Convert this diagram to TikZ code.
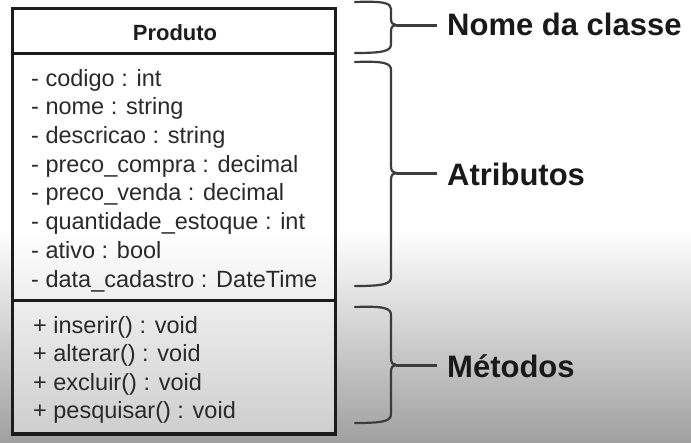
\documentclass[tikz,border=0pt]{standalone}
\usepackage{fontspec}
\setmainfont{Liberation Sans}
\definecolor{bggray}{HTML}{A0A0A0}
\definecolor{boxgray}{HTML}{CECECE}
\definecolor{inkline}{HTML}{1C1C1C}
\definecolor{inktext}{HTML}{2A2A2A}
\definecolor{braceink}{HTML}{3C3C3C}
\tikzset{
  attr/.style={anchor=base west, inner sep=0pt, text=inktext, font=\fontsize{23.5}{28}\selectfont},
  title/.style={anchor=base, inner sep=0pt, text=inkline, font=\bfseries\fontsize{22}{26}\selectfont},
  lbl/.style={anchor=base west, inner sep=0pt, text=black!90, font=\bfseries\fontsize{31}{36}\selectfont},
  bracestyle/.style={draw=braceink, line width=2.2pt, line cap=round},
  tickstyle/.style={draw=braceink, line width=3pt},
  frame/.style={draw=inkline, line width=3.5pt},
  divider/.style={draw=inkline, line width=3pt}
}
\begin{document}
\begin{tikzpicture}[x=1pt,y=-1pt]
\useasboundingbox (0,0) rectangle (691,442);
% background
\fill[white] (0,0) rectangle (691,231);
\shade[top color=white, bottom color=bggray] (0,230) rectangle (691,442);
% box interior
\fill[white] (12.5,8.5) rectangle (335.5,231);
\shade[top color=white, bottom color=boxgray] (12.5,230) rectangle (335.5,434);
% class box
\draw[frame] (12.5,8.5) rectangle (335.5,434);
\draw[divider] (12.5,53) -- (335.5,53);
\draw[divider] (12.5,300) -- (335.5,300);
% header
\node[title] (cls) at (175,40) {Produto};
% attributes
\node[attr] (a1) at (31,86)    {- codigo : int};
\node[attr] (a2) at (31,114.7) {- nome : string};
\node[attr] (a3) at (31,143.4) {- descricao : string};
\node[attr] (a4) at (31,172.1) {- preco\_compra : decimal};
\node[attr] (a5) at (31,200.8) {- preco\_venda : decimal};
\node[attr] (a6) at (31,229.5) {- quantidade\_estoque : int};
\node[attr] (a7) at (31,258.2) {- ativo : bool};
\node[attr] (a8) at (31,287)   {- data\_cadastro : DateTime};
% methods
\node[attr] (m1) at (33,333)   {+ inserir() : void};
\node[attr] (m2) at (33,361.5) {+ alterar() : void};
\node[attr] (m3) at (33,390)   {+ excluir() : void};
\node[attr] (m4) at (33,418.5) {+ pesquisar() : void};
% braces
\draw[bracestyle] (355,2) .. controls (384,1) and (391,3) .. (391,9) -- (391,19)
  .. controls (391,23) and (393,25) .. (396,25) .. controls (393,25) and (391,27) .. (391,31)
  -- (391,44) .. controls (391,51) and (384,53) .. (355,53);
\draw[bracestyle] (355,62) .. controls (384,61) and (391,63) .. (391,70) -- (391,166)
  .. controls (391,171) and (393,173) .. (396,173) .. controls (393,173) and (391,175) .. (391,180)
  -- (391,277) .. controls (391,284) and (384,286) .. (355,286);
\draw[bracestyle] (355,307) .. controls (384,306) and (391,308) .. (391,315) -- (391,358)
  .. controls (391,363) and (393,365) .. (396,365) .. controls (393,365) and (391,367) .. (391,372)
  -- (391,414) .. controls (391,421) and (384,423) .. (355,423);
\coordinate (tip1) at (396,25);
\coordinate (tip2) at (396,173);
\coordinate (tip3) at (396,365);
% labels
\node[lbl] (l1) at (447,35)  {Nome da classe};
\node[lbl] (l2) at (447,185) {Atributos};
\node[lbl] (l3) at (447,377) {Métodos};
\coordinate (e1) at ([xshift=-10pt]l1.west);
\coordinate (e2) at ([xshift=-10pt]l2.west);
\coordinate (e3) at ([xshift=-10pt]l3.west);
\draw[tickstyle] (tip1) -- (tip1 -| e1);
\draw[tickstyle] (tip2) -- (tip2 -| e2);
\draw[tickstyle] (tip3) -- (tip3 -| e3);
\end{tikzpicture}
\end{document}
